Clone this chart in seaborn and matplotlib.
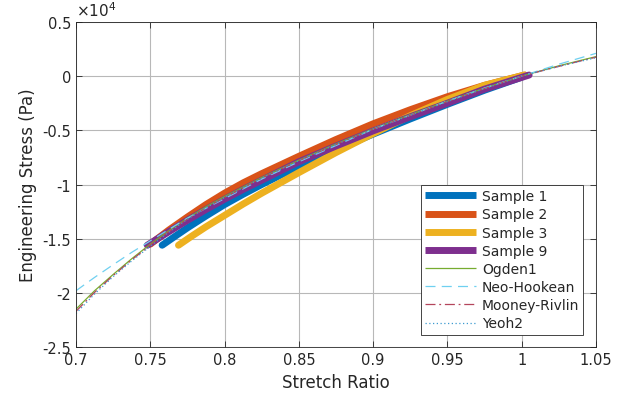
import matplotlib
matplotlib.use('Agg')
import matplotlib.pyplot as plt
import seaborn as sns
import pandas as pd
from matplotlib.ticker import FuncFormatter

# Experimental samples (stretch ratio, engineering stress in 1e4 Pa)
s1_x = [0.758, 0.7675, 0.775, 0.7875, 0.80, 0.8125, 0.825, 0.8375, 0.85, 0.875, 0.90, 0.925, 0.95, 0.975, 1.0]
s1_y = [-1.56, -1.47, -1.40, -1.29, -1.185, -1.09, -1.00, -0.915, -0.835, -0.68, -0.535, -0.395, -0.26, -0.13, -0.01]

s2_x = [0.750, 0.7625, 0.775, 0.7875, 0.80, 0.8125, 0.825, 0.8375, 0.85, 0.875, 0.90, 0.925, 0.95, 0.975, 1.002]
s2_y = [-1.55, -1.42, -1.30, -1.185, -1.08, -0.985, -0.90, -0.82, -0.74, -0.585, -0.44, -0.31, -0.19, -0.085, 0.01]

s3_x = [0.769, 0.7775, 0.7875, 0.80, 0.8125, 0.825, 0.8375, 0.85, 0.875, 0.90, 0.925, 0.95, 0.975, 1.002]
s3_y = [-1.56, -1.48, -1.39, -1.285, -1.18, -1.08, -0.985, -0.89, -0.705, -0.53, -0.365, -0.215, -0.085, 0.01]

s9_x = [0.748, 0.7625, 0.775, 0.7875, 0.80, 0.8125, 0.825, 0.8375, 0.85, 0.875, 0.90, 0.925, 0.95, 0.975, 1.005]
s9_y = [-1.56, -1.435, -1.33, -1.23, -1.135, -1.045, -0.96, -0.875, -0.79, -0.645, -0.505, -0.375, -0.25, -0.12, 0.01]

# Fitted models
model_x = [0.70, 0.7125, 0.725, 0.7375, 0.75, 0.7625, 0.775, 0.7875, 0.80, 0.825, 0.85, 0.875,
           0.90, 0.925, 0.95, 0.975, 1.0, 1.025, 1.05]
ogden_y = [-2.15, -1.98, -1.83, -1.685, -1.55, -1.425, -1.31, -1.205, -1.11, -0.935, -0.775, -0.625,
           -0.485, -0.355, -0.23, -0.11, 0.0, 0.095, 0.18]
neo_y = [-1.98, -1.857, -1.74, -1.626, -1.52, -1.414, -1.31, -1.219, -1.13, -0.95, -0.79, -0.64,
         -0.49, -0.36, -0.23, -0.11, 0.0, 0.11, 0.21]
mooney_y = [-2.17, -1.995, -1.84, -1.695, -1.56, -1.435, -1.32, -1.215, -1.12, -0.94, -0.78, -0.63,
            -0.49, -0.36, -0.235, -0.115, 0.0, 0.09, 0.175]
yeoh_y = [-2.19, -2.01, -1.85, -1.705, -1.57, -1.44, -1.32, -1.215, -1.12, -0.94, -0.78, -0.63,
          -0.49, -0.36, -0.235, -0.115, 0.0, 0.09, 0.17]

sns.set_theme(style="white")
plt.rcParams['font.family'] = ['DejaVu Sans']
plt.rcParams['axes.unicode_minus'] = False

fig = plt.figure(figsize=(6.31, 4.02), dpi=100)
ax = fig.add_axes([0.1204, 0.134, 0.8241, 0.809])

samples = [
    ('Sample 1', s1_x, s1_y, '#0072BD'),
    ('Sample 2', s2_x, s2_y, '#D95319'),
    ('Sample 3', s3_x, s3_y, '#EDB120'),
    ('Sample 9', s9_x, s9_y, '#7E2F8E'),
]
for name, xs, ys, col in samples:
    df = pd.DataFrame({'x': xs, 'y': ys})
    sns.lineplot(data=df, x='x', y='y', ax=ax, color=col, linewidth=5,
                 sort=False, estimator=None, label=name,
                 solid_capstyle='round', solid_joinstyle='round')

models = [
    ('Ogden1', ogden_y, '#77AC30', '-'),
    ('Neo-Hookean', neo_y, '#6FD0F0', (0, (8, 5))),
    ('Mooney-Rivlin', mooney_y, '#B4455C', (0, (8, 3, 1.5, 3))),
    ('Yeoh2', yeoh_y, '#3C9AD0', (0, (1, 2))),
]
for name, ys, col, ls in models:
    df = pd.DataFrame({'x': model_x, 'y': ys})
    sns.lineplot(data=df, x='x', y='y', ax=ax, color=col, linewidth=0.9,
                 linestyle=ls, sort=False, estimator=None, label=name)

ax.set_xlim(0.7, 1.05)
ax.set_ylim(-2.5, 0.5)
ax.set_xticks([0.7, 0.75, 0.8, 0.85, 0.9, 0.95, 1.0, 1.05])
ax.set_yticks([-2.5, -2, -1.5, -1, -0.5, 0, 0.5])
fmt = FuncFormatter(lambda v, p: ('%g' % round(v, 3)))
ax.xaxis.set_major_formatter(fmt)
ax.yaxis.set_major_formatter(fmt)
ax.grid(True, color='#b8b8b8', linewidth=0.8)
ax.tick_params(direction='in', length=4, colors='#262626', labelsize=10.5,
               top=True, right=True, bottom=True, left=True, width=0.6)
for sp in ax.spines.values():
    sp.set_color('#262626')
    sp.set_linewidth(0.6)

ax.set_xlabel('Stretch Ratio', fontsize=12, color='#262626')
ax.set_ylabel('Engineering Stress (Pa)', fontsize=12, color='#262626')
ax.text(0.0, 1.008, r'$\times10^{4}$', transform=ax.transAxes, fontsize=11,
        color='#262626', ha='left', va='bottom')

leg = ax.legend(loc='lower right', fontsize=10, frameon=True, fancybox=False,
                edgecolor='#262626', framealpha=1, handlelength=3.7,
                borderaxespad=0.9, labelspacing=0.3, borderpad=0.3, handletextpad=0.4)
leg.get_frame().set_linewidth(0.6)
for h in leg.get_lines():
    h.set_solid_capstyle('butt')

fig.savefig('out.png', dpi=100)
